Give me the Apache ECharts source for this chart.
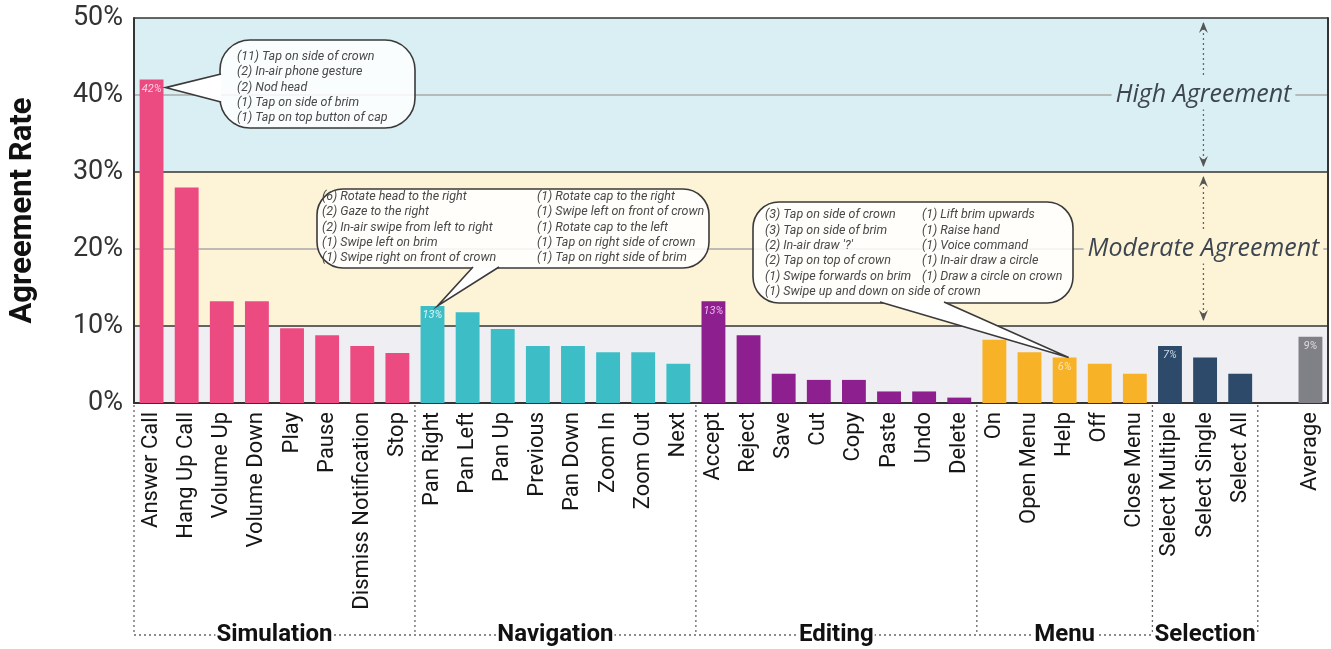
<!DOCTYPE html>
<html><head><meta charset="utf-8">
<script src="https://cdn.jsdelivr.net/npm/echarts@6/dist/echarts.min.js"></script>
<style>html,body{margin:0;padding:0;background:#fff}#c{width:1331px;height:649px}</style>
</head><body><div id="c"></div>
<script>
// ---------- data ----------
const groupNames = ['Simulation', 'Navigation', 'Editing', 'Menu', 'Selection'];
const groupSizes = [8, 8, 8, 5, 3];
const groupColors = ['#EC4B81', '#3DBEC7', '#8E1F8E', '#F8B227', '#2E4A6B'];
const averageColor = '#808087';

const categories = [
  'Answer Call', 'Hang Up Call', 'Volume Up', 'Volume Down', 'Play', 'Pause', 'Dismiss Notification', 'Stop',
  'Pan Right', 'Pan Left', 'Pan Up', 'Previous', 'Pan Down', 'Zoom In', 'Zoom Out', 'Next',
  'Accept', 'Reject', 'Save', 'Cut', 'Copy', 'Paste', 'Undo', 'Delete',
  'On', 'Open Menu', 'Help', 'Off', 'Close Menu',
  'Select Multiple', 'Select Single', 'Select All',
  '', 'Average'
];
const values = [
  42, 28, 13.2, 13.2, 9.7, 8.8, 7.4, 6.5,
  12.6, 11.8, 9.6, 7.4, 7.4, 6.6, 6.6, 5.1,
  13.2, 8.8, 3.8, 3.0, 3.0, 1.5, 1.5, 0.7,
  8.2, 6.6, 5.9, 5.1, 3.8,
  7.4, 5.9, 3.8,
  null, 8.6
];
const valueLabels = [
  '42%', '', '', '', '', '', '', '',
  '13%', '', '', '', '', '', '', '',
  '13%', '', '', '', '', '', '', '',
  '', '', '6%', '', '',
  '7%', '', '',
  '', '9%'
];
const labelColors = ['#FAD3E1', '#DDF5F7', '#F1B9F0', '#FDE7B4', '#C9D6E6'];
const yTicks = [0, 10, 20, 30, 40, 50];

const callout1 = ['(11) Tap on side of crown', '(2) In-air phone gesture', '(2) Nod head', '(1) Tap on side of brim', '(1) Tap on top button of cap'];
const callout2Left = ['(6) Rotate head to the right', '(2) Gaze to the right', '(2) In-air swipe from left to right', '(1) Swipe left on brim', '(1) Swipe right on front of crown'];
const callout2Right = ['(1) Rotate cap to the right', '(1) Swipe left on front of crown', '(1) Rotate cap to the left', '(1) Tap on right side of crown', '(1) Tap on right side of brim'];
const callout3Left = ['(3) Tap on side of crown', '(3) Tap on side of brim', "(2) In-air draw '?'", '(2) Tap on top of crown', '(1) Swipe forwards on brim', '(1) Swipe up and down on side of crown'];
const callout3Right = ['(1) Lift brim upwards', '(1) Raise hand', '(1) Voice command', '(1) In-air draw a circle', '(1) Draw a circle on crown'];
const bandNames = ['High Agreement', 'Moderate Agreement'];

// ---------- build ----------
const barColors = [];
const barLabelColors = [];
groupSizes.forEach((n, g) => { for (let i = 0; i < n; i++) { barColors.push(groupColors[g]); barLabelColors.push(labelColors[g]); } });
barColors.push('transparent'); barLabelColors.push('#fff');
barColors.push(averageColor); barLabelColors.push('#DCDCE0');

const seriesData = values.map((v, i) => ({
  value: v,
  itemStyle: { color: barColors[i] },
  label: {
    show: !!valueLabels[i], formatter: valueLabels[i] || '', position: 'insideTop', distance: 4,
    color: barLabelColors[i], fontSize: 11, fontStyle: 'italic', fontFamily: 'Roboto'
  }
}));

const chart = echarts.init(document.getElementById('c'));
chart.setOption({
  animation: false,
  grid: { left: 130, right: 3, top: 18, bottom: 246 },
  xAxis: {
    type: 'category', data: categories,
    axisLine: { show: true, lineStyle: { color: '#333', width: 2 } },
    axisTick: { show: false },
    axisLabel: { interval: 0, rotate: 90, fontSize: 22, color: '#161616', fontFamily: 'Roboto', margin: 9 }
  },
  yAxis: [{
    type: 'value', min: 0, max: 50, interval: 10,
    name: 'Agreement Rate', nameLocation: 'middle', nameRotate: 90, nameGap: 95,
    nameTextStyle: { fontSize: 31, fontWeight: 'bold', color: '#111', fontFamily: 'Roboto' },
    axisLine: { show: true, lineStyle: { color: '#333', width: 2 } },
    axisTick: { show: false },
    axisLabel: { formatter: '{value}%', fontSize: 27, color: '#333', fontFamily: 'Roboto', margin: 11 },
    splitLine: { show: true, showMinLine: true, showMaxLine: true, lineStyle: { color: ['#333', '#333', '#a8a8a8', '#333', '#a8a8a8', '#333'], width: 1.5 } },
    splitArea: { show: true, areaStyle: { color: ['#EFEFF3', '#FDF3D7', '#FDF3D7', '#DAEFF3', '#DAEFF3'], opacity: 1 } }
  }, {
    type: 'value', min: 0, max: 50, interval: 10, position: 'right',
    axisLine: { show: true, lineStyle: { color: '#333', width: 2 } },
    axisTick: { show: false }, axisLabel: { show: false }, splitLine: { show: false }
  }],
  series: [{
    type: 'bar', data: seriesData, barWidth: '68%', z: 3
  }]
});

// ---------- annotations (positioned via the chart's own scales) ----------
function px(idx, val) { return chart.convertToPixel({ gridIndex: 0 }, [idx, val]); }
const slot = px(1, 0)[0] - px(0, 0)[0];
const y0 = px(0, 0)[1];
const gEls = [];
const dotted = { stroke: '#666', lineWidth: 1.3, lineDash: [2, 3] };

// group separators & names
const bottomY = 635;
let start = 0;
const bounds = [px(0, 0)[0] - slot / 2];
groupSizes.forEach((n) => { start += n; bounds.push(px(start - 1, 0)[0] + slot / 2); });
bounds.forEach((bx) => {
  gEls.push({ type: 'line', shape: { x1: bx, y1: y0 + 2, x2: bx, y2: bottomY }, style: dotted, z: 50 });
});
gEls.push({ type: 'line', shape: { x1: bounds[0], y1: bottomY, x2: bounds[bounds.length - 1], y2: bottomY }, style: dotted, z: 50 });
groupNames.forEach((name, g) => {
  gEls.push({
    type: 'text', x: (bounds[g] + bounds[g + 1]) / 2, y: bottomY, z: 51,
    style: { text: name, fontSize: 24, fontWeight: 'bold', fontFamily: 'Roboto', fill: '#111',
      align: 'center', verticalAlign: 'middle', backgroundColor: '#fff', padding: [0, 1] }
  });
});

// speech bubbles
const bubbleFill = 'rgba(255,255,255,0.86)';
function bubble(rect, b1, b2, tip, columns) {
  gEls.push({ type: 'rect', shape: { x: rect[0], y: rect[1], width: rect[2], height: rect[3], r: rect[4] },
    style: { fill: bubbleFill, stroke: '#3a3a3a', lineWidth: 1.6 }, z: 60 });
  gEls.push({ type: 'polygon', shape: { points: [b1, tip, b2] }, style: { fill: '#fff', stroke: null }, z: 61 });
  gEls.push({ type: 'polyline', shape: { points: [b1, tip, b2] }, style: { fill: null, stroke: '#3a3a3a', lineWidth: 1.6 }, z: 62 });
  columns.forEach((col) => {
    col.lines.forEach((t, i) => {
      gEls.push({ type: 'text', x: col.x, y: col.y + i * col.lh, z: 63,
        style: { text: t, fontSize: 12.5, fontStyle: 'italic', fontFamily: 'Roboto', fill: '#484848', verticalAlign: 'middle' } });
    });
  });
}
const t1 = px(0, values[0]);
bubble([220, 40, 195, 88, 30], [221, 74], [221, 102], [t1[0] + 14, t1[1] + 8],
  [{ x: 237, y: 57, lh: 15.2, lines: callout1 }]);
const t2 = px(8, values[8]);
bubble([317, 189, 392, 79, 26], [473, 267], [499, 267], [t2[0] + 5, t2[1]],
  [{ x: 322, y: 197, lh: 15.3, lines: callout2Left }, { x: 537, y: 197, lh: 15.3, lines: callout2Right }]);
const t3 = px(26, values[26]);
bubble([753, 202, 320, 101, 26], [880, 302], [944, 302], [t3[0] + 4, t3[1]],
  [{ x: 765, y: 215, lh: 15.4, lines: callout3Left }, { x: 922, y: 215, lh: 15.4, lines: callout3Right }]);

// band annotations
const ax = px(33, 0)[0] - 107;
const bandY = [px(0, 40)[1], px(0, 20)[1]];
const bandBg = ['#DAEFF3', '#FDF3D7'];
const bandEdges = [[px(0, 50)[1], px(0, 30)[1]], [px(0, 30)[1], px(0, 10)[1]]];
function arrowHead(x, y, dir) {
  return { type: 'polygon', z: 55, shape: { points: [[x, y], [x - 4.5, y - dir * 11], [x, y - dir * 7], [x + 4.5, y - dir * 11]] }, style: { fill: '#555' } };
}
bandNames.forEach((name, k) => {
  const top = bandEdges[k][0], bot = bandEdges[k][1], mid = bandY[k];
  gEls.push({ type: 'line', z: 54, shape: { x1: ax, y1: top + 5, x2: ax, y2: mid - 20 }, style: dotted });
  gEls.push(arrowHead(ax, top + 4, -1));
  gEls.push({ type: 'line', z: 54, shape: { x1: ax, y1: mid + 14, x2: ax, y2: bot - 6 }, style: dotted });
  gEls.push(arrowHead(ax, bot - 5, 1));
  gEls.push({ type: 'text', x: ax, y: mid, z: 56,
    style: { text: name, fontSize: 25, fontStyle: 'italic', fontFamily: 'Open Sans', fill: '#3d4650',
      align: 'center', verticalAlign: 'middle', backgroundColor: bandBg[k], padding: [2, 4] } });
});

chart.setOption({ graphic: { elements: gEls } });
</script></body></html>
